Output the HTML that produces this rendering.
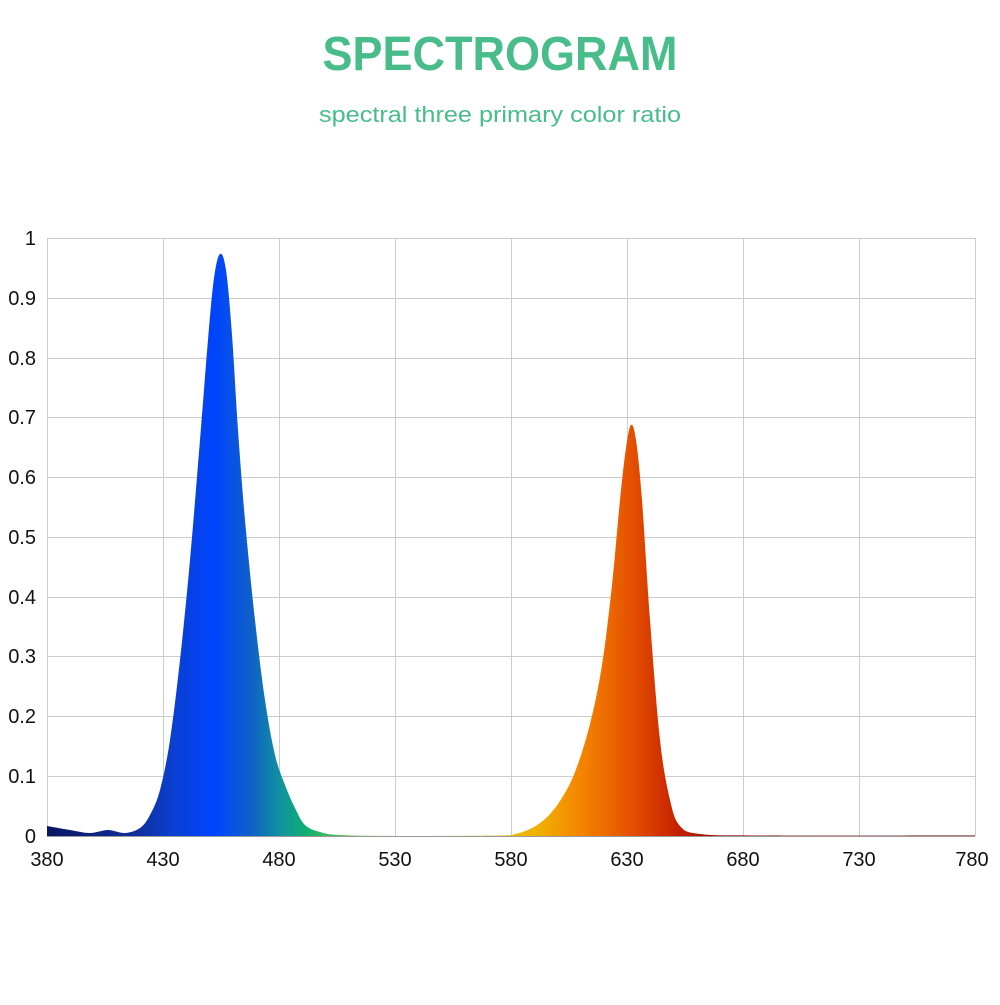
<!DOCTYPE html>
<html><head><meta charset="utf-8"><style>
body{margin:0;background:#fff;width:1000px;height:1000px;overflow:hidden;font-family:"Liberation Sans",sans-serif}
</style></head><body>
<svg width="1000" height="1000" xmlns="http://www.w3.org/2000/svg" font-family="Liberation Sans, sans-serif">
<defs>
<linearGradient id="g" gradientUnits="userSpaceOnUse" x1="47" y1="0" x2="975" y2="0">
<stop offset="0" stop-color="#0a1660"/>
<stop offset="0.1" stop-color="#1030a0"/>
<stop offset="0.135" stop-color="#0b3fd0"/>
<stop offset="0.18" stop-color="#0044ff"/>
<stop offset="0.22" stop-color="#1060c8"/>
<stop offset="0.25" stop-color="#1090a0"/>
<stop offset="0.28" stop-color="#10b070"/>
<stop offset="0.32" stop-color="#60c050"/>
<stop offset="0.42" stop-color="#d0d040"/>
<stop offset="0.53" stop-color="#f0b000"/>
<stop offset="0.58" stop-color="#f48000"/>
<stop offset="0.63" stop-color="#e45000"/>
<stop offset="0.68" stop-color="#c52000"/>
<stop offset="0.75" stop-color="#900000"/>
<stop offset="1" stop-color="#600000"/>
</linearGradient>
</defs>
<text x="500" y="70" text-anchor="middle" font-size="48" font-weight="bold" fill="#48bd8a" textLength="355" lengthAdjust="spacingAndGlyphs">SPECTROGRAM</text>
<text x="500" y="122" text-anchor="middle" font-size="22" fill="#48bd8a" textLength="362" lengthAdjust="spacingAndGlyphs">spectral three primary color ratio</text>
<g stroke="#cccccc" stroke-width="1">
<line x1="47" y1="238.5" x2="975" y2="238.5"/><line x1="47" y1="298.5" x2="975" y2="298.5"/>
<line x1="47" y1="358.5" x2="975" y2="358.5"/><line x1="47" y1="417.5" x2="975" y2="417.5"/>
<line x1="47" y1="477.5" x2="975" y2="477.5"/><line x1="47" y1="537.5" x2="975" y2="537.5"/>
<line x1="47" y1="597.5" x2="975" y2="597.5"/><line x1="47" y1="656.5" x2="975" y2="656.5"/>
<line x1="47" y1="716.5" x2="975" y2="716.5"/><line x1="47" y1="776.5" x2="975" y2="776.5"/>
<line x1="47.5" y1="238" x2="47.5" y2="836"/><line x1="163.5" y1="238" x2="163.5" y2="836"/>
<line x1="279.5" y1="238" x2="279.5" y2="836"/><line x1="395.5" y1="238" x2="395.5" y2="836"/>
<line x1="511.5" y1="238" x2="511.5" y2="836"/><line x1="627.5" y1="238" x2="627.5" y2="836"/>
<line x1="743.5" y1="238" x2="743.5" y2="836"/><line x1="859.5" y1="238" x2="859.5" y2="836"/>
<line x1="975.5" y1="238" x2="975.5" y2="836"/>
</g>
<path id="spec" fill="url(#g)" d="M47,836 L47,826 L975,835 L975,836 Z"/>
<line x1="47" y1="836.5" x2="975" y2="836.5" stroke="#999" stroke-width="1"/>
<g font-size="20" fill="#111" text-anchor="end">
<text x="36" y="245">1</text><text x="36" y="305">0.9</text><text x="36" y="365">0.8</text>
<text x="36" y="424">0.7</text><text x="36" y="484">0.6</text><text x="36" y="544">0.5</text>
<text x="36" y="604">0.4</text><text x="36" y="663">0.3</text><text x="36" y="723">0.2</text>
<text x="36" y="783">0.1</text><text x="36" y="843">0</text>
</g>
<g font-size="20" fill="#111" text-anchor="middle">
<text x="47" y="866">380</text><text x="163" y="866">430</text><text x="279" y="866">480</text>
<text x="395" y="866">530</text><text x="511" y="866">580</text><text x="627" y="866">630</text>
<text x="743" y="866">680</text><text x="859" y="866">730</text><text x="972" y="866">780</text>
</g>
</svg>
<script>
var p=[[47,826],[70,830],[90,833],[108,830],[125,833],[140,828],[150,815],[160,790],[170,740],[180,660],[190,560],[200,440],[208,340],[214,278],[220,254],[226,270],[232,335],[238,430],[245,520],[255,620],[265,700],[275,755],[285,785],[295,808],[305,825],[320,832],[340,835],[400,836],[500,835.5],[515,834],[530,829],[545,819],[560,801],[575,772],[590,724],[602,665],[612,585],[620,500],[626,448],[631,425],[636,440],[642,500],[650,620],[660,740],[670,800],[680,826],[700,834],[760,835.5],[975,835.5]];
var d="M47,836 L47,826 ";
for(var i=0;i<p.length-1;i++){var p0=p[Math.max(0,i-1)],p1=p[i],p2=p[i+1],p3=p[Math.min(p.length-1,i+2)];
var c1=[p1[0]+(p2[0]-p0[0])/6,p1[1]+(p2[1]-p0[1])/6],c2=[p2[0]-(p3[0]-p1[0])/6,p2[1]-(p3[1]-p1[1])/6];
c1[1]=Math.min(c1[1],836);c2[1]=Math.min(c2[1],836);
d+="C"+c1[0]+","+c1[1]+" "+c2[0]+","+c2[1]+" "+p2[0]+","+p2[1]+" ";}
d+="L975,836 Z";
document.getElementById("spec").setAttribute("d",d);
</script>
</body></html>
